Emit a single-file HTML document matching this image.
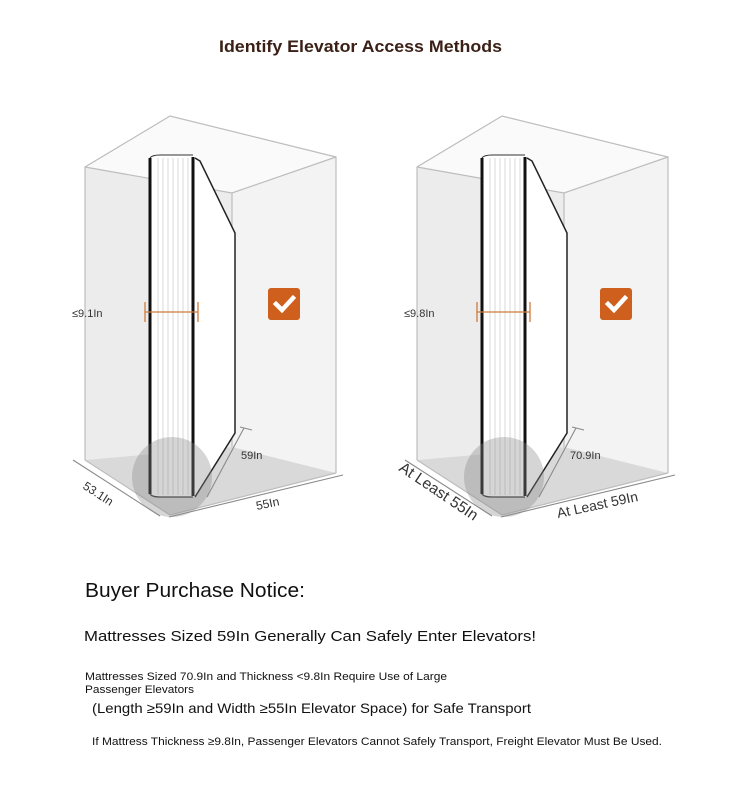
<!DOCTYPE html>
<html><head><meta charset="utf-8"><style>
html,body{margin:0;padding:0;background:#fff;width:750px;height:793px;overflow:hidden}
svg{display:block}
text{font-family:"Liberation Sans",sans-serif}
</style></head><body>
<svg width="750" height="793" viewBox="0 0 750 793" xmlns="http://www.w3.org/2000/svg">
<rect width="750" height="793" fill="#fff"/>
<text x="219" y="52" font-size="16.5" font-weight="bold" fill="#3a2016" textLength="283" lengthAdjust="spacingAndGlyphs">Identify Elevator Access Methods</text>

<defs>
<g id="box">
  <polygon points="85,167 232,193 232,447 85,460" fill="#ececec"/>
  <polygon points="232,193 336,157 336,473 232,447" fill="#f3f3f3"/>
  <polygon points="85,167 170,116 336,157 232,193" fill="#fafafa"/>
  <polygon points="85,460 232,447 336,473 170,515" fill="#d9d9d9"/>
  <g fill="none" stroke="#bdbdbd" stroke-width="1.2">
    <polyline points="85,460 85,167 170,116 336,157 336,473"/>
    <polyline points="85,167 232,193 336,157"/>
    <line x1="232" y1="193" x2="232" y2="447"/>
    <polyline points="85,460 170,515 336,473"/>
  </g>
  <polygon points="149,160 155,155 190,155 198,160 235,233 235,433 195,497 155,497 149,492" fill="#fff"/>
  <g stroke="#cfcfcf" stroke-width="0.8">
    <line x1="158" y1="158" x2="158" y2="495"/><line x1="163" y1="158" x2="163" y2="495"/>
    <line x1="168" y1="158" x2="168" y2="495"/><line x1="173" y1="158" x2="173" y2="495"/>
    <line x1="178" y1="158" x2="178" y2="495"/><line x1="183" y1="158" x2="183" y2="495"/>
    <line x1="188" y1="158" x2="188" y2="495"/>
  </g>
  <line x1="150" y1="158" x2="150" y2="494" stroke="#111" stroke-width="3"/>
  <line x1="193" y1="157" x2="193" y2="496" stroke="#111" stroke-width="3"/>
  <polyline points="195,158 200,161 235,233 235,433 195,497" fill="none" stroke="#222" stroke-width="1.5"/>
  <path d="M150,494 Q152,497 160,497 L193,497" fill="none" stroke="#333" stroke-width="1.2"/>
  <path d="M150,158 Q152,155 160,155 L193,155" fill="none" stroke="#333" stroke-width="1"/>
  <circle cx="172" cy="477" r="40" fill="#888" fill-opacity="0.35"/>
  <g stroke="#d07a3a" stroke-width="1.3">
    <line x1="145" y1="312" x2="198" y2="312"/>
    <line x1="145" y1="302" x2="145" y2="322"/>
    <line x1="198" y1="302" x2="198" y2="322"/>
  </g>
  <rect x="268" y="288" width="32" height="32" rx="3" fill="#cf5f1c"/>
  <polyline points="276,304 282,310 293,298" fill="none" stroke="#fff" stroke-width="4.5" stroke-linecap="square"/>
  <g stroke="#8a8a8a" stroke-width="1.1" fill="none">
    <line x1="73" y1="460" x2="160" y2="516"/>
    <line x1="169" y1="517" x2="343" y2="475"/>
    <line x1="207" y1="497" x2="244" y2="428"/>
    <line x1="240" y1="427" x2="252" y2="430"/>
  </g>
</g>
</defs>

<use href="#box"/>
<text x="72" y="317" font-size="11" fill="#333">≤9.1In</text>
<text x="241" y="459" font-size="11" fill="#333">59In</text>
<text x="0" y="0" font-size="12" fill="#333" transform="translate(82,488) rotate(33)">53.1In</text>
<text x="0" y="0" font-size="12" fill="#333" transform="translate(257,510) rotate(-12)">55In</text>

<use href="#box" transform="translate(332,0)"/>
<text x="404" y="317" font-size="11" fill="#333">≤9.8In</text>
<text x="570" y="459" font-size="11" fill="#333">70.9In</text>
<text x="0" y="0" font-size="15.5" fill="#333" transform="translate(398,470) rotate(34)">At Least 55In</text>
<text x="0" y="0" font-size="14" fill="#333" transform="translate(558,518) rotate(-12)">At Least 59In</text>

<text x="85" y="597" font-size="20" fill="#111" textLength="220" lengthAdjust="spacingAndGlyphs">Buyer Purchase Notice:</text>
<text x="84" y="641" font-size="15" fill="#111" textLength="452" lengthAdjust="spacingAndGlyphs">Mattresses Sized 59In Generally Can Safely Enter Elevators!</text>
<text x="85" y="680" font-size="11" fill="#111" textLength="362" lengthAdjust="spacingAndGlyphs">Mattresses Sized 70.9In and Thickness &lt;9.8In Require Use of Large</text>
<text x="85" y="693" font-size="11" fill="#111" textLength="109" lengthAdjust="spacingAndGlyphs">Passenger Elevators</text>
<text x="92" y="713" font-size="14" fill="#111" textLength="439" lengthAdjust="spacingAndGlyphs">(Length ≥59In and Width ≥55In Elevator Space) for Safe Transport</text>
<text x="92" y="745" font-size="11" fill="#111" textLength="570" lengthAdjust="spacingAndGlyphs">If Mattress Thickness ≥9.8In, Passenger Elevators Cannot Safely Transport, Freight Elevator Must Be Used.</text>
</svg>
</body></html>
